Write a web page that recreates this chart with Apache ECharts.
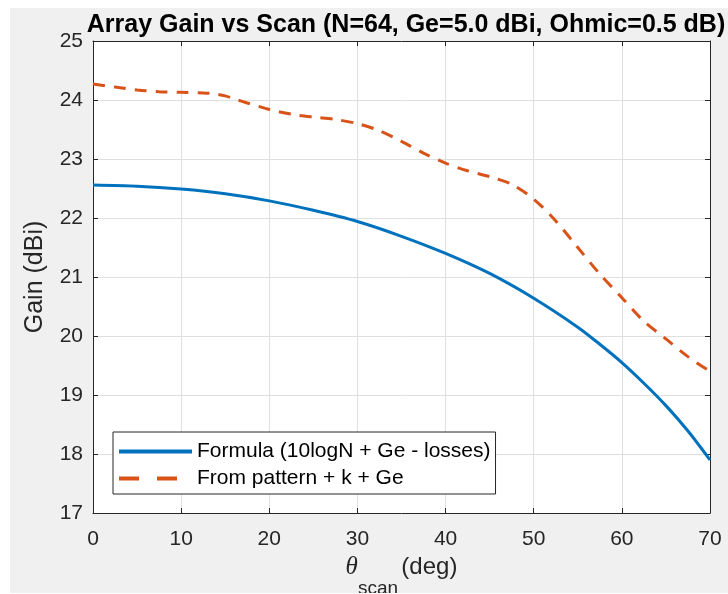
<!DOCTYPE html>
<html>
<head>
<meta charset="utf-8">
<script src="https://cdn.jsdelivr.net/npm/echarts@6/dist/echarts.min.js"></script>
<style>
html,body{margin:0;padding:0;background:#ffffff;}
#chart{position:absolute;left:10px;top:8px;width:718px;height:585px;background:#f0f0f0;}
</style>
</head>
<body>
<div id="chart"></div>
<script>
// Data
const titleText = 'Array Gain vs Scan (N=64, Ge=5.0 dBi, Ohmic=0.5 dB)';
const seriesNames = ['Formula (10logN + Ge - losses)', 'From pattern + k + Ge'];
const formulaAngles = [0, 5, 10, 15, 20, 25, 30, 35, 40, 45, 50, 55, 57.5, 60, 62.5, 65, 67.5, 70];
const formulaGain   = [22.56, 22.54, 22.49, 22.41, 22.29, 22.13, 21.94, 21.69, 21.40, 21.06, 20.64, 20.15, 19.86, 19.55, 19.20, 18.82, 18.39, 17.90];
const patternAngles = [0, 2.5, 5, 7.5, 10, 12.5, 14, 15, 16, 17.5, 20, 22.5, 25, 27.5, 30, 32.5, 35, 37.5, 40, 42.5, 45, 47.5, 50, 52.5, 55, 57.5, 60, 62.5, 65, 67.5, 70];
const patternGain   = [24.27, 24.22, 24.17, 24.14, 24.13, 24.12, 24.10, 24.07, 24.02, 23.95, 23.84, 23.76, 23.71, 23.67, 23.60, 23.48, 23.30, 23.10, 22.93, 22.80, 22.70, 22.57, 22.32, 21.95, 21.50, 21.05, 20.65, 20.25, 19.95, 19.65, 19.40];
const xTicks = {min: 0, max: 70, step: 10};
const yTicks = {min: 17, max: 25, step: 1};

const zip = (a, b) => a.map((v, i) => [v, b[i]]);
const chart = echarts.init(document.getElementById('chart'), null, {renderer: 'canvas'});
const textColor = '#262626';
const font = '"Liberation Sans", Arial, Helvetica, sans-serif';
const gridLine = {show: true, lineStyle: {color: '#dfdfdf', width: 1}};

const hiddenAxis = (type, pos) => ({
  type: 'value', position: pos, min: type === 'x' ? xTicks.min : yTicks.min,
  max: type === 'x' ? xTicks.max : yTicks.max,
  interval: type === 'x' ? xTicks.step : yTicks.step,
  axisLine: {show: true, onZero: false, lineStyle: {color: textColor, width: 1}},
  axisTick: {show: true, inside: true, length: 5, lineStyle: {color: textColor}},
  axisLabel: {show: false}, splitLine: {show: false}
});

chart.setOption({
  backgroundColor: '#f0f0f0',
  animation: false,
  textStyle: {fontFamily: font},
  title: {
    text: titleText, left: 391, top: 0, textAlign: 'center',
    textStyle: {fontFamily: font, fontSize: 25, fontWeight: 'bold', color: '#000'}
  },
  grid: {left: 83, right: 18, top: 33, bottom: 80, show: true, backgroundColor: '#ffffff', borderWidth: 0,
         containLabel: false, outerBoundsMode: 'none'},
  legend: {
    orient: 'vertical', left: 103, top: 424,
    backgroundColor: '#ffffff', borderColor: textColor, borderWidth: 1,
    padding: [9, 5, 5, 4], itemGap: 6, itemWidth: 73, itemHeight: 14,
    itemStyle: {opacity: 0},
    textStyle: {fontFamily: font, fontSize: 21, color: '#000'},
    data: [
      {name: seriesNames[0], lineStyle: {width: 4}},
      {name: seriesNames[1], lineStyle: {width: 4, type: [20, 18]}}
    ]
  },
  xAxis: [{
    type: 'value', position: 'bottom', min: xTicks.min, max: xTicks.max, interval: xTicks.step,
    axisLine: {show: true, onZero: false, lineStyle: {color: textColor, width: 1}},
    axisTick: {show: true, inside: true, length: 5, lineStyle: {color: textColor}},
    axisLabel: {color: textColor, fontSize: 21, margin: 16, fontFamily: font},
    splitLine: gridLine,
    name: '{th|θ}{sub|scan} {n|(deg)}', nameLocation: 'middle', nameGap: 37,
    nameTextStyle: {
      rich: {
        th: {fontFamily: '"Liberation Serif", "DejaVu Serif", serif', fontStyle: 'italic', fontSize: 25, lineHeight: 26, verticalAlign: 'top', color: textColor},
        sub: {fontFamily: font, fontSize: 19, lineHeight: 19, color: textColor, verticalAlign: 'top', padding: [24, 0, 0, 0]},
        n: {fontFamily: font, fontSize: 24, lineHeight: 26, verticalAlign: 'top', color: textColor}
      }
    }
  }, hiddenAxis('x', 'top')],
  yAxis: [{
    type: 'value', position: 'left', min: yTicks.min, max: yTicks.max, interval: yTicks.step,
    axisLine: {show: true, onZero: false, lineStyle: {color: textColor, width: 1}},
    axisTick: {show: true, inside: true, length: 5, lineStyle: {color: textColor}},
    axisLabel: {color: textColor, fontSize: 21, margin: 10, fontFamily: font, padding: [7, 0, 0, 0]},
    splitLine: gridLine,
    name: 'Gain (dBi)', nameLocation: 'middle', nameGap: 45, nameRotate: 90,
    nameTextStyle: {fontFamily: font, fontSize: 25, color: textColor}
  }, hiddenAxis('y', 'right')],
  series: [{
    name: seriesNames[0], type: 'line', data: zip(formulaAngles, formulaGain),
    smooth: 0.3, symbol: 'none', color: '#0072BD',
    lineStyle: {color: '#0072BD', width: 3}
  }, {
    name: seriesNames[1], type: 'line', data: zip(patternAngles, patternGain),
    smooth: 0.3, symbol: 'none', color: '#D95319',
    lineStyle: {color: '#D95319', width: 3, type: [12, 9]}
  }]
});
</script>
</body>
</html>
